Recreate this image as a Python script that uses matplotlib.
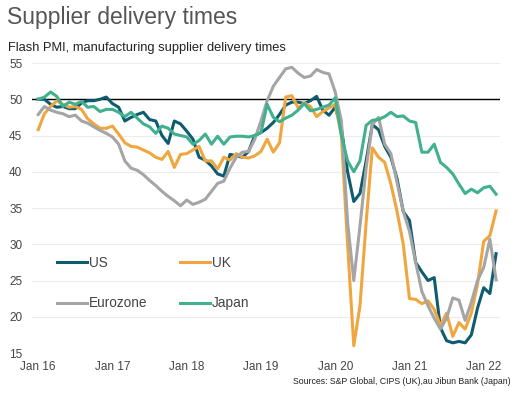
import numpy as np
import matplotlib
matplotlib.use("Agg")
import matplotlib.pyplot as plt

plt.rcParams["font.family"] = ["Liberation Sans", "DejaVu Sans"]

# monthly flash PMI supplier delivery times index, Jan 2016 - Mar 2022
us = [50.0, 50.0, 49.3, 48.9, 49.0, 48.7, 48.7, 49.5, 49.8, 49.8, 50.0, 50.3,
      49.4, 48.9, 47.0, 47.5, 47.9, 48.2, 47.2, 47.0, 45.0, 43.9, 47.0, 46.6,
      45.6, 44.5, 42.0, 41.6, 40.8, 39.7, 39.4, 42.4, 42.2, 42.0, 42.8, 45.0,
      45.4, 46.0, 46.8, 47.9, 49.2, 49.6, 49.6, 49.4, 49.8, 50.4, 48.5, 47.8,
      48.9, 46.0, 40.0, 35.9, 37.0, 41.5, 46.5, 45.8, 43.5, 42.0, 39.0, 34.5,
      33.3, 27.5, 26.2, 25.0, 25.4, 18.5, 16.7, 16.4, 16.6, 16.4, 17.5, 21.2,
      24.0, 23.2, 28.7]
uk = [45.8, 48.0, 49.0, 49.8, 49.3, 48.9, 49.0, 48.6, 47.3, 46.6, 46.0, 46.0,
      46.3, 45.2, 44.0, 43.5, 43.4, 43.0, 42.6, 42.0, 41.7, 42.8, 40.6, 42.4,
      42.5, 43.0, 43.5, 41.5, 41.5, 40.4, 42.0, 41.6, 42.5, 42.0, 41.9, 42.2,
      42.8, 44.5, 42.7, 44.0, 50.3, 50.5, 48.8, 49.5, 49.0, 47.6, 48.3, 48.8,
      49.3, 45.0, 30.0, 16.0, 21.5, 33.0, 43.3, 42.0, 41.3, 38.3, 34.5, 30.0,
      22.5, 22.4, 21.8, 22.2, 21.0, 18.8, 20.5, 17.3, 19.2, 18.3, 20.5, 24.5,
      30.4, 31.2, 34.6]
eurozone = [47.9, 49.0, 48.5, 48.2, 48.0, 47.6, 47.8, 47.0, 46.7, 46.2, 45.7, 45.3,
            44.8, 43.8, 41.5, 40.5, 40.2, 39.6, 38.8, 38.1, 37.3, 36.6, 36.0, 35.3,
            36.1, 35.5, 35.8, 36.2, 37.3, 38.4, 38.7, 40.5, 42.0, 42.7, 42.8, 44.5,
            47.0, 49.8, 51.8, 53.0, 54.2, 54.4, 53.6, 53.0, 53.2, 54.1, 53.7, 53.5,
            51.0, 47.0, 33.0, 25.0, 32.5, 40.5, 46.5, 47.5, 43.8, 42.5, 38.5, 34.5,
            31.8, 27.5, 23.5, 21.5, 19.8, 18.3, 19.8, 22.6, 22.3, 19.5, 22.0, 25.0,
            26.8, 30.7, 25.1]
japan = [50.0, 50.3, 51.0, 50.4, 49.0, 49.6, 49.3, 49.7, 48.9, 49.0, 48.3, 48.6,
         48.6, 48.2, 47.6, 48.2, 47.4, 46.6, 46.2, 45.3, 46.3, 46.0, 45.2, 45.0,
         44.8, 43.8, 44.3, 45.2, 43.8, 44.9, 43.8, 44.8, 44.9, 44.9, 44.8, 45.0,
         45.4, 49.3, 47.5, 46.9, 47.4, 47.8, 48.5, 49.4, 48.4, 48.6, 48.9, 49.2,
         50.2, 45.0, 41.5, 40.0, 41.5, 46.4, 47.1, 47.2, 47.6, 48.2, 47.6, 47.7,
         47.0, 46.8, 42.7, 42.7, 43.8, 41.3, 40.6, 39.7, 38.3, 37.0, 37.6, 37.1,
         37.8, 38.0, 36.9]

tick_labels = ["Jan 16", "Jan 17", "Jan 18", "Jan 19", "Jan 20", "Jan 21", "Jan 22"]
months = np.arange(len(us))

fig = plt.figure(figsize=(5.19, 3.95), dpi=100)
ax = fig.add_axes([0.0617, 0.1063, 0.9013, 0.7342])

l_us, = ax.plot(months, us, color="#0f5b6f", lw=2.2, label="US")
l_uk, = ax.plot(months, uk, color="#f0a63e", lw=2.2, label="UK")
l_ez, = ax.plot(months, eurozone, color="#a5a5a5", lw=2.2, label="Eurozone")
l_jp, = ax.plot(months, japan, color="#40b08e", lw=2.2, label="Japan")
ax.axhline(50, color="black", lw=1, zorder=1)

ax.set_xlim(-1, 74.6)
ax.set_ylim(15, 55)
ax.set_yticks(range(15, 56, 5))
ax.set_xticks(range(0, 73, 12))
ax.set_xticklabels(tick_labels)
ax.grid(axis="y", color="#ececec", lw=0.8)
ax.set_axisbelow(True)
for s in ax.spines.values():
    s.set_visible(False)
ax.tick_params(length=0, labelsize=8.5, labelcolor="#444444")
ax.tick_params(axis="y", pad=7)
ax.tick_params(axis="x", pad=6)

# column-major fill: US/Eurozone in first column, UK/Japan in second
ax.legend([l_us, l_ez, l_uk, l_jp], ["US", "Eurozone", "UK", "Japan"],
          loc="upper left", bbox_to_anchor=(0.054, 0.335), ncol=2, frameon=False,
          fontsize=9.8, handlelength=2.2, handletextpad=0.1, columnspacing=2.45,
          labelspacing=1.95, borderpad=0, borderaxespad=0, labelcolor="#444444")

fig.text(0.013, 0.955, "Supplier delivery times", fontsize=16.5, color="#555555",
         va="center")
fig.text(0.015, 0.878, "Flash PMI, manufacturing supplier delivery times",
         fontsize=9.3, color="#222222", va="center")
fig.text(0.983, 0.033, "Sources: S&P Global, CIPS (UK),au Jibun Bank (Japan)",
         fontsize=6.3, color="#222222", ha="right", va="center")

fig.savefig("out.png", dpi=100)
